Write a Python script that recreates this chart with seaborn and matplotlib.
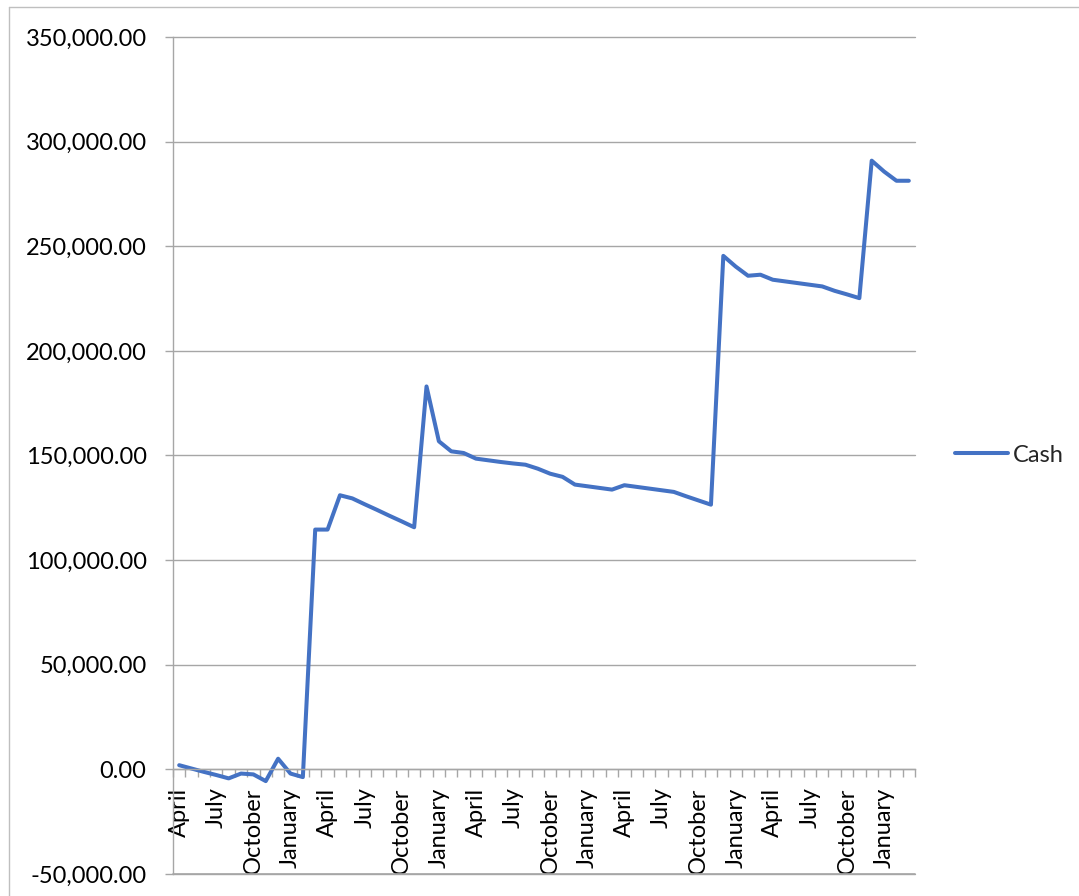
import matplotlib
matplotlib.use("Agg")
import matplotlib.pyplot as plt
import seaborn as sns
import pandas as pd
import numpy as np
from matplotlib.ticker import FuncFormatter, FixedLocator
from matplotlib.lines import Line2D

month_names = ["April", "May", "June", "July", "August", "September",
               "October", "November", "December", "January", "February", "March"]
months = month_names * 5

cash = [2000, 400, -1200, -2700, -4300, -2000, -2400, -5600, 5100, -2000,
        -3700, 114600, 114600, 131000, 129500, 126700, 124000, 121200, 118500, 115700,
        183000, 156800, 152000, 151200, 148500, 147700, 146900, 146200, 145600, 143700,
        141300, 139800, 136100, 135300, 134500, 133700, 135800, 135000, 134200, 133400,
        132600, 130500, 128500, 126500, 245400, 240300, 235900, 236400, 234000, 233200,
        232400, 231600, 230800, 228700, 227000, 225200, 290900, 285700, 281300, 281300]

series_name = "Cash"
y_ticks = [-50000, 0, 50000, 100000, 150000, 200000, 250000, 300000, 350000]

sns.set_style("white")
plt.rcParams["font.family"] = ["Lato", "DejaVu Sans"]

df = pd.DataFrame({"idx": np.arange(len(cash)), "month": months, "value": cash,
                   "series": series_name})

W, H, DPI = 1079, 896, 100
fig = plt.figure(figsize=(W / DPI, H / DPI), dpi=DPI)
ax = fig.add_axes([173 / W, 1 - 874 / H, (915 - 173) / W, (874 - 37) / H])

grid_c = "#a6a6a6"
line_c = "#4472C4"
fs = 17

sns.lineplot(data=df, x="idx", y="value", hue="series", palette=[line_c],
             linewidth=2.9, ax=ax, legend=False)

ax.set_xlim(-0.5, len(cash) - 0.5)
ax.set_ylim(y_ticks[0], y_ticks[-1])
ax.set_yticks(y_ticks)
ax.yaxis.set_major_formatter(FuncFormatter(lambda v, p: f"{v:,.2f}"))
ax.grid(axis="y", color=grid_c, linewidth=1.0)
for gl in ax.get_ygridlines():
    gl.set_clip_on(False)
ax.set_axisbelow(True)
ax.axhline(y_ticks[0], color=grid_c, linewidth=1.2, clip_on=False, zorder=3)

# x ticks: labels every third month, tick marks between categories
label_pos = list(range(0, len(cash), 3))
ax.set_xticks(label_pos)
ax.set_xticklabels([months[i] for i in label_pos])
ax.xaxis.set_minor_locator(FixedLocator(np.arange(-0.5, len(cash), 1.0)))
ax.tick_params(axis="x", which="major", bottom=True, length=0, pad=13, labelsize=fs,
               colors="black", labelrotation=90)
ax.tick_params(axis="x", which="minor", bottom=True, length=5.5, width=1.0,
               color=grid_c, direction="out")
ax.tick_params(axis="y", which="major", left=True, length=6, width=1.0, color=grid_c,
               pad=13, labelsize=fs, labelcolor="black", direction="out")
for lab in ax.get_xticklabels():
    lab.set_verticalalignment("top")
    lab.set_horizontalalignment("center")

for s in ["top", "right"]:
    ax.spines[s].set_visible(False)
ax.spines["left"].set_color(grid_c)
ax.spines["left"].set_linewidth(1.0)
ax.spines["bottom"].set_position(("data", 0))
ax.spines["bottom"].set_color(grid_c)
ax.spines["bottom"].set_linewidth(1.0)
ax.set_xlabel("")
ax.set_ylabel("")

handle = Line2D([0], [0], color=line_c, linewidth=2.9)
fig.legend([handle], [series_name], loc="center left",
           bbox_to_anchor=(955 / W, 1 - 455 / H), frameon=False, fontsize=fs,
           handlelength=2.25, handletextpad=0.2, borderpad=0, borderaxespad=0)

# outer chart border (left & top visible)
border_c = "#bfbfbf"
fig.add_artist(Line2D([9 / W, 9 / W], [0, 1 - 7 / H], color=border_c, linewidth=1.0,
                      transform=fig.transFigure))
fig.add_artist(Line2D([9 / W, 1], [1 - 7 / H, 1 - 7 / H], color=border_c, linewidth=1.0,
                      transform=fig.transFigure))

fig.savefig("out.png", dpi=DPI)
